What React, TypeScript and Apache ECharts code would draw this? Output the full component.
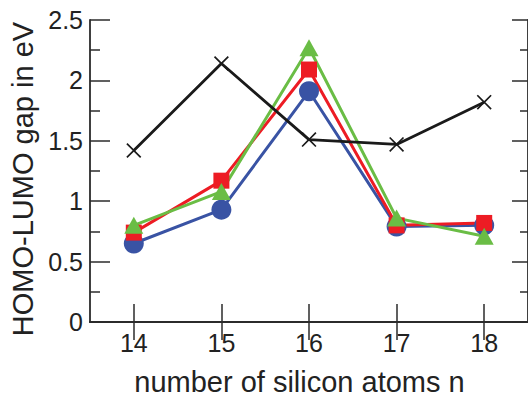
import React, { useEffect, useRef } from "react";
import * as echarts from "echarts";

const categories = ["14", "15", "16", "17", "18"];
const blueCircle = [0.65, 0.93, 1.91, 0.79, 0.8];
const redSquare = [0.74, 1.17, 2.09, 0.8, 0.82];
const greenTriangle = [0.8, 1.08, 2.27, 0.86, 0.71];
const blackCross = [1.42, 2.14, 1.51, 1.47, 1.82];

const crossPath =
  "path://M0,0.8 L0.8,0 L5,4.2 L9.2,0 L10,0.8 L5.8,5 L10,9.2 L9.2,10 L5,5.8 L0.8,10 L0,9.2 L4.2,5 Z";

export default function App() {
  const ref = useRef<HTMLDivElement>(null);
  useEffect(() => {
    if (!ref.current) return;
    const chart = echarts.init(ref.current, undefined, { renderer: "svg" });
    const font = "'Liberation Sans', Arial, Helvetica, sans-serif";
    const axisLine = { show: true, lineStyle: { color: "#2b2b2b", width: 1.8 } };
    const tickStyle = { color: "#2b2b2b", width: 1.5 };
    chart.setOption({
      animation: false,
      backgroundColor: "#fff",
      textStyle: { fontFamily: font },
      grid: { left: 90, top: 20, width: 441, height: 311 },
      xAxis: [
        {
          type: "category",
          data: categories,
          position: "bottom",
          boundaryGap: true,
          axisLine,
          axisTick: { show: true, inside: true, length: 18, alignWithLabel: true, lineStyle: tickStyle },
          axisLabel: { color: "#222", fontSize: 25, fontFamily: font, margin: 8 },
          splitLine: { show: false },
          name: "number of silicon atoms n",
          nameLocation: "middle",
          nameGap: 45,
          nameTextStyle: { color: "#222", fontSize: 29, fontFamily: font, padding: [0, 19, 0, 0] },
        },
        {
          type: "category",
          data: categories,
          position: "top",
          boundaryGap: true,
          axisLine,
          axisTick: { show: true, inside: true, length: 18, alignWithLabel: true, lineStyle: tickStyle },
          axisLabel: { show: false },
          splitLine: { show: false },
        },
      ],
      yAxis: [
        {
          type: "value",
          min: 0,
          max: 2.5,
          interval: 0.5,
          position: "left",
          axisLine,
          axisTick: { show: true, inside: true, length: 20, lineStyle: tickStyle },
          minorTick: { show: true, splitNumber: 2, length: 10, lineStyle: tickStyle },
          axisLabel: { color: "#222", fontSize: 25, fontFamily: font, margin: 7 },
          splitLine: { show: false },
          name: "HOMO-LUMO gap in eV",
          nameLocation: "middle",
          nameGap: 52,
          nameTextStyle: { color: "#222", fontSize: 29, fontFamily: font, padding: [0, 16, 0, 0] },
        },
        {
          type: "value",
          min: 0,
          max: 2.5,
          interval: 0.5,
          position: "right",
          axisLine,
          axisTick: { show: true, inside: true, length: 16, lineStyle: tickStyle },
          minorTick: { show: true, splitNumber: 2, length: 8, lineStyle: tickStyle },
          axisLabel: { show: false },
          splitLine: { show: false },
        },
      ],
      series: [
        {
          type: "line",
          name: "circle",
          data: blueCircle,
          symbol: "circle",
          symbolSize: 20,
          lineStyle: { color: "#3953a4", width: 3 },
          itemStyle: { color: "#3953a4" },
        },
        {
          type: "line",
          name: "square",
          data: redSquare,
          symbol: "rect",
          symbolSize: 16,
          lineStyle: { color: "#ed1c24", width: 3 },
          itemStyle: { color: "#ed1c24" },
        },
        {
          type: "line",
          name: "triangle",
          data: greenTriangle,
          symbol: "triangle",
          symbolSize: [19, 17],
          lineStyle: { color: "#6abd45", width: 3 },
          itemStyle: { color: "#6abd45" },
        },
        {
          type: "line",
          name: "cross",
          data: blackCross,
          symbol: crossPath,
          symbolSize: 15,
          lineStyle: { color: "#1a1a1a", width: 2.8 },
          itemStyle: { color: "#1a1a1a" },
        },
      ],
    });
    return () => chart.dispose();
  }, []);
  return (
    <div
      ref={ref}
      style={{ position: "fixed", left: 0, top: 0, width: 528, height: 401, background: "#fff" }}
    />
  );
}
